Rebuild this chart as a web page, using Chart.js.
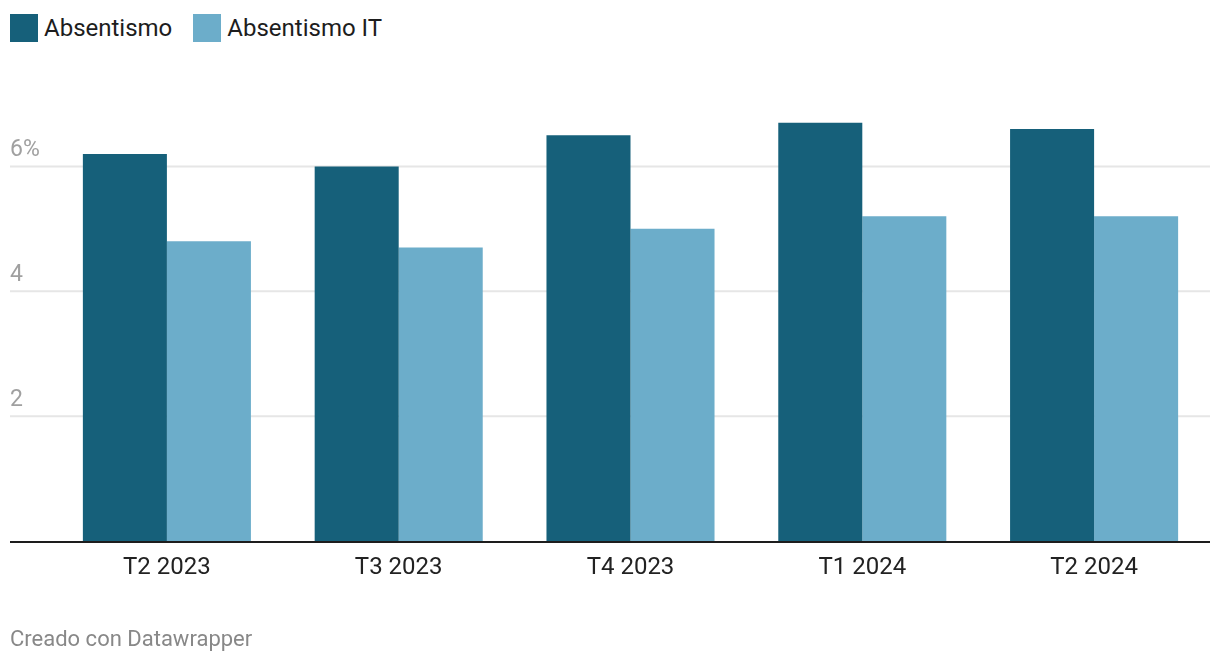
<!DOCTYPE html>
<html>
<head>
<meta charset="utf-8">
<script src="https://cdn.jsdelivr.net/npm/chart.js@4"></script>
<style>
  html, body { margin: 0; padding: 0; background: #fff; }
  body { width: 1220px; height: 664px; position: relative; font-family: Roboto, sans-serif; overflow: hidden; }
  #legend { position: absolute; left: 10px; top: 14px; display: flex; align-items: center; }
  .item { display: flex; align-items: center; margin-right: 21px; }
  .box { width: 28px; height: 28px; margin-right: 6px; }
  .label { font-size: 24px; color: #1d1d1d; line-height: 28px; }
  #footer { position: absolute; left: 10px; top: 626px; font-size: 22px; color: #888; }
  #wrap { position: absolute; left: 0; top: 0; width: 1220px; height: 664px; }
</style>
</head>
<body>
<div id="legend"></div>
<div id="wrap"><canvas id="chart"></canvas></div>
<div id="footer">Creado con Datawrapper</div>
<script>
const categories = ['T2 2023', 'T3 2023', 'T4 2023', 'T1 2024', 'T2 2024'];
const absentismo = [6.2, 6.0, 6.5, 6.7, 6.6];
const absentismoIT = [4.8, 4.7, 5.0, 5.2, 5.2];
const yTicks = [2, 4, 6];
const yTickLabels = ['2', '4', '6%'];

const DARK = '#16607a';
const LIGHT = '#6cadca';

// legend
const legend = document.getElementById('legend');
[['Absentismo', DARK], ['Absentismo IT', LIGHT]].forEach(([name, color]) => {
  const it = document.createElement('div');
  it.className = 'item';
  it.innerHTML = `<div class="box" style="background:${color}"></div><span class="label">${name}</span>`;
  legend.appendChild(it);
});

// gridlines, y labels and baseline across full width
const gridPlugin = {
  id: 'grid',
  beforeDatasetsDraw(chart) {
    const { ctx, scales: { y } } = chart;
    ctx.save();
    ctx.strokeStyle = '#e6e6e6';
    ctx.lineWidth = 2;
    ctx.fillStyle = '#a0a0a0';
    ctx.font = '23px Roboto';
    ctx.textBaseline = 'alphabetic';
    yTicks.forEach((v, i) => {
      const py = y.getPixelForValue(v);
      ctx.beginPath();
      ctx.moveTo(10, py);
      ctx.lineTo(1210, py);
      ctx.stroke();
      ctx.fillText(yTickLabels[i], 10, py - 10);
    });
    ctx.restore();
  },
  afterDatasetsDraw(chart) {
    const { ctx, scales: { y } } = chart;
    const py = y.getPixelForValue(0);
    ctx.save();
    ctx.strokeStyle = '#1d1d1d';
    ctx.lineWidth = 2;
    ctx.beginPath();
    ctx.moveTo(10, py + 1);
    ctx.lineTo(1210, py + 1);
    ctx.stroke();
    ctx.restore();
  }
};

new Chart(document.getElementById('chart'), {
  type: 'bar',
  data: {
    labels: categories,
    datasets: [
      { label: 'Absentismo', data: absentismo, backgroundColor: DARK },
      { label: 'Absentismo IT', data: absentismoIT, backgroundColor: LIGHT }
    ]
  },
  options: {
    responsive: true,
    maintainAspectRatio: false,
    animation: false,
    categoryPercentage: 0.725,
    barPercentage: 1,
    layout: { padding: { left: 51, right: 10, top: 104, bottom: 63 } },
    plugins: { legend: { display: false }, tooltip: { enabled: false } },
    scales: {
      x: {
        grid: { display: false, drawTicks: false },
        border: { display: false },
        ticks: { color: '#222', font: { family: 'Roboto', size: 24 }, padding: 13 },
        afterFit(s) { s.height = 60; }
      },
      y: {
        display: false,
        min: 0,
        max: 7
      }
    }
  },
  plugins: [gridPlugin]
});
</script>
</body>
</html>
